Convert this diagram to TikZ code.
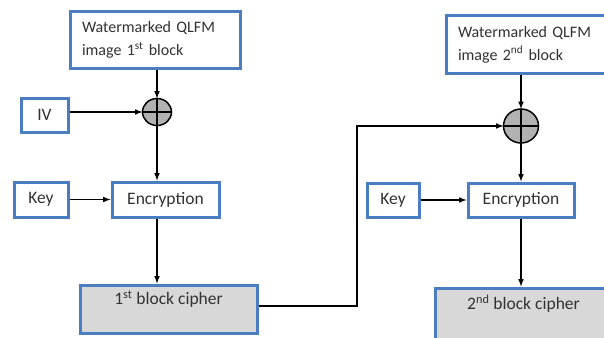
\documentclass[tikz,border=0pt]{standalone}
\usepackage{fontspec}
\setmainfont{Carlito}
\usetikzlibrary{positioning}
\definecolor{boxblue}{RGB}{74,126,193}
\definecolor{txt}{RGB}{50,50,50}
\definecolor{cipherfill}{RGB}{216,216,216}

\begin{document}
\begin{tikzpicture}[x=1pt,y=-1pt,
    box/.style={draw=boxblue,line width=3pt,fill=white,text=txt,font=\fontsize{17.5}{23}\selectfont,inner sep=0pt},
    wbox/.style={box,font=\fontsize{16}{23}\selectfont,anchor=north west,minimum width=170pt,text width=146pt,align=left},
    arr/.style={line width=1.5pt,-latex}]
\useasboundingbox (0,0) rectangle (604,337);
\clip (0,0) rectangle (604,337);
    \node[wbox,minimum height=56pt] (w1) at (68.5,10.5) {Watermarked QLFM\\image 1\textsuperscript{st} block};
    \node[box,minimum width=47pt,minimum height=34pt] (iv) at (44.5,115) {IV};
    \node[box,minimum width=54pt,minimum height=35pt] (k1) at (41,199.5) {Key};
    \node[box,minimum width=107pt,minimum height=35pt] (e1) at (165.5,199.5) {Encryption};
    \node[box,fill=cipherfill,anchor=north,minimum width=177pt,text height=19.5pt,text depth=28.5pt] (c1) at (168.5,283.5) {1\textsuperscript{st} block cipher};
    \node[wbox,minimum height=57pt,inner xsep=9pt] (w2) at (444.5,14.5) {Watermarked QLFM\\image 2\textsuperscript{nd} block};
    \node[box,minimum width=52pt,minimum height=34pt] (k2) at (393,200) {Key};
    \node[box,minimum width=106pt,minimum height=34pt] (e2) at (521,200) {Encryption};
    \node[box,fill=cipherfill,anchor=north west,minimum width=177pt,text height=21.5pt,text depth=40pt] (c2) at (433.5,286.5) {2\textsuperscript{nd} block cipher};
    % xor symbols
    \draw[line width=1.5pt,fill=black!30] (157,112) ellipse [x radius=14.5pt,y radius=13.5pt];
    \draw[line width=1.5pt,fill=black!30] (521,126) ellipse [x radius=17.5pt,y radius=17pt];
    \coordinate (x1) at (157,112);
    \coordinate (x2) at (521,126);
    \coordinate (x1n) at (157,98.5);
    \coordinate (x1s) at (157,125.5);
    \coordinate (x1w) at (142.5,112);
    \coordinate (x2n) at (521,109);
    \coordinate (x2s) at (521,143);
    \coordinate (x2w) at (503.5,126);
    \draw[line width=1.5pt] (x1n) -- (x1s) (x1w) -- (171.5,112);
    \draw[line width=1.5pt] (x2n) -- (x2s) (x2w) -- (538.5,126);
    \draw[arr] (w1.south -| x1) -- (x1n);
    \draw[arr] (iv.east |- x1w) -- (x1w);
    \draw[arr] (x1s) -- (x1 |- e1.north);
    \draw[arr] (k1) -- (e1);
    \draw[arr] (x1 |- e1.south) -- (x1 |- c1.north);
    \coordinate (bend) at (357,306);
    \draw[arr] (c1.east |- bend) -- (bend) |- (x2w);
    \draw[arr] (x2 |- w2.south) -- (x2n);
    \draw[arr] (x2s) -- (e2);
    \draw[arr] (k2) -- (e2);
    \draw[arr] (e2) -- (x2 |- c2.north);
\end{tikzpicture}
\end{document}
